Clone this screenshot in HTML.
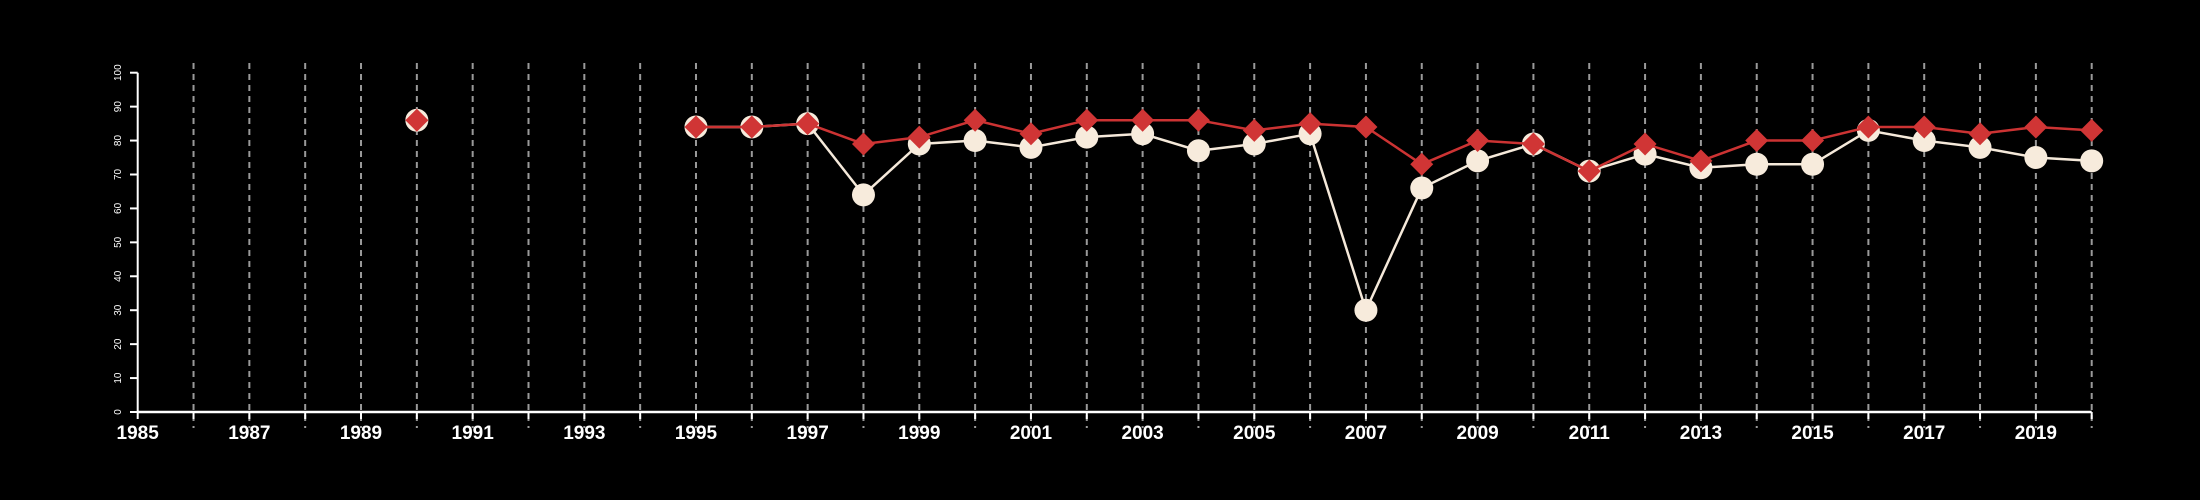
<!DOCTYPE html>
<html><head><meta charset="utf-8"><style>
html,body{margin:0;padding:0;background:#000;}
svg{display:block;font-family:"Liberation Sans",Arial,sans-serif;}
</style></head><body>
<svg id="chart" width="2200" height="500" viewBox="0 0 2200 500">
<rect width="2200" height="500" fill="#000"/>
<g id="grid"></g><g id="axes"></g><g id="series"></g>
</svg>
<script>
const years = [1990,1991,1992,1993,1994,1995,1996,1997,1998,1999,2000,2001,2002,2003,2004,2005,2006,2007,2008,2009,2010,2011,2012,2013,2014,2015,2016,2017,2018,2019,2020];
const whiteValues = [86,null,null,null,null,84,84,85,64,79,80,78,81,82,77,79,82,30,66,74,79,71,76,72,73,73,83,80,78,75,74];
const redValues = [86,null,null,null,null,84,84,85,79,81,86,82,86,86,86,83,85,84,73,80,79,71,79,74,80,80,84,84,82,84,83];
const yTicks = [0,10,20,30,40,50,60,70,80,90,100];
const xTickYears = [1985,1986,1987,1988,1989,1990,1991,1992,1993,1994,1995,1996,1997,1998,1999,2000,2001,2002,2003,2004,2005,2006,2007,2008,2009,2010,2011,2012,2013,2014,2015,2016,2017,2018,2019,2020];

const NS="http://www.w3.org/2000/svg";
const x0=137.7,x1=2091.7,yr0=1985,yr1=2020,yb=412,yt=72.7;
const X=v=>x0+(v-yr0)*(x1-x0)/(yr1-yr0);
const Y=v=>yb-(v/100)*(yb-yt);
function mk(tag,attrs,parent){const e=document.createElementNS(NS,tag);for(const k in attrs)e.setAttribute(k,attrs[k]);parent.appendChild(e);return e;}
const grid=document.getElementById('grid'),axes=document.getElementById('axes'),ser=document.getElementById('series');

xTickYears.forEach(yv=>{
  if(yv>yr0){
    const g=mk('line',{x1:X(yv),x2:X(yv),y1:63,y2:428,stroke:'#9a9a9a','stroke-width':2,'stroke-dasharray':'6,5'},grid);
    
    
  }
  const t=mk('line',{x1:X(yv),x2:X(yv),y1:yb,y2:419,stroke:'#fff','stroke-width':2},axes);
  
  
  if(yv%2===1){
    const l=mk('text',{x:X(yv),y:439,fill:'#fff','font-size':19,'font-weight':'bold','text-anchor':'middle'},axes);
    l.textContent=yv;
    
    
  }
});
const xa=mk('line',{x1:x0,x2:x1,y1:yb,y2:yb,stroke:'#fff','stroke-width':2.5},axes);


const ya=mk('line',{x1:x0,x2:x0,y1:yt,y2:yb,stroke:'#fff','stroke-width':2},axes);


yTicks.forEach(v=>{
  const t=mk('line',{x1:130,x2:x0,y1:Y(v),y2:Y(v),stroke:'#fff','stroke-width':2},axes);
  
  
  const l=mk('text',{x:0,y:0,fill:'#fff','font-size':10,'text-anchor':'middle',transform:`translate(121,${Y(v)}) rotate(-90)`},axes);
  l.textContent=v;
  
  
});

function path(vals,color,name){
  let d='',pen=false;
  vals.forEach((v,i)=>{if(v==null){pen=false;return;}d+=(pen?'L':'M')+X(years[i])+','+Y(v)+' ';pen=true;});
  const p=mk('path',{d:d,fill:'none',stroke:color,'stroke-width':2.5},ser);
  
  
}
path(whiteValues,'#f5e9da','white-series-line');
whiteValues.forEach((v,i)=>{if(v==null)return;
  const c=mk('circle',{cx:X(years[i]),cy:Y(v),r:11.5,fill:'#f7ebdc'},ser);
  
  
});
path(redValues,'#cc3333','red-series-line');
redValues.forEach((v,i)=>{if(v==null)return;
  const cx=X(years[i]),cy=Y(v),s=11.5;
  const p=mk('polygon',{points:`${cx},${cy-s} ${cx+s},${cy} ${cx},${cy+s} ${cx-s},${cy}`,fill:'#d03535'},ser);
  
  
});
</script>
</body></html>
